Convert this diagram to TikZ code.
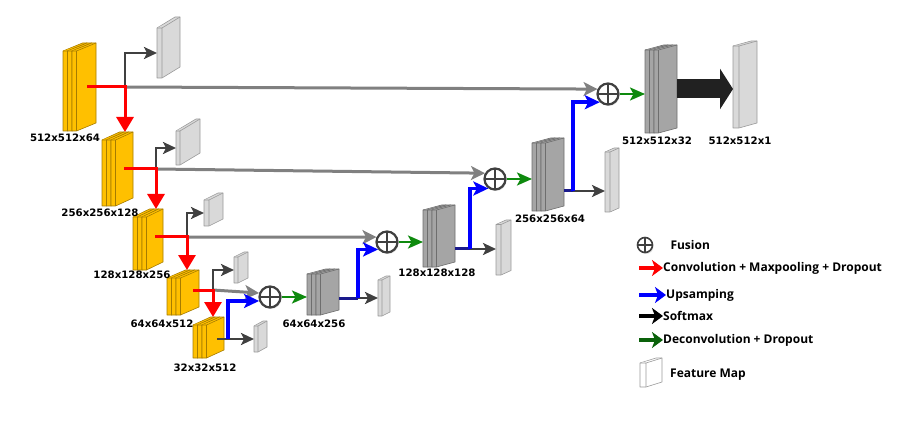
\documentclass[tikz,border=0pt]{standalone}
\usepackage{fontspec}
\setmainfont{DejaVu Sans}
\newfontfamily\legfont{Open Sans}
\usepackage{tikz}
\usetikzlibrary{positioning}
\usetikzlibrary{calc}
\usetikzlibrary{arrows.meta}
\usetikzlibrary{shadows}

\definecolor{yel}{HTML}{FFC000}
\definecolor{yeldraw}{HTML}{A67C00}
\definecolor{decfill}{HTML}{A5A5A5}
\definecolor{decdraw}{HTML}{6E6E6E}
\definecolor{fmfill}{HTML}{D9D9D9}
\definecolor{fmdraw}{HTML}{9A9A9A}
\definecolor{darkarr}{HTML}{404040}
\definecolor{longgray}{HTML}{808080}
\definecolor{navy}{HTML}{1A1A8C}
\definecolor{grn}{HTML}{0E8A0E}

% one thin slab: x, top, bottom, width, depth, rise, style
\newcommand{\oneslab}[7]{%
  \filldraw[#7] (#1,#2+#6) -- ++(#5,-#6) -- ++(#4,0) -- (#1+#4+#5,#3-#6) -- (#1+#4,#3) -- (#1,#3) -- cycle;
  \draw[#7] (#1,#2+#6) -- ++(#4,0) -- ++(#5,-#6) (#1+#4,#2+#6) -- (#1+#4,#3);
}
% stack of three slabs: name, left, right, top, bottom, rise, style
\newcommand{\stackmap}[7]{%
  \pgfmathsetmacro\sd{#3-#2-13.5}
  \foreach \i in {0,1,2}{
    \pgfmathsetmacro\sx{#2+4.5*\i}
    \oneslab{\sx}{#4}{#5}{4.5}{\sd}{#6}{#7}
  }
  \pgfmathsetmacro\bw{#3-#2}
  \pgfmathsetmacro\bh{#5-#4}
  \node[hold, minimum width=\bw pt, minimum height=\bh pt] (#1) at ({(#2+#3)/2},{(#4+#5)/2}) {};
}
% single feature map: name, left, right, top, bottom, width, rise, style
\newcommand{\featmap}[8]{%
  \pgfmathsetmacro\sd{#3-#2-#6}
  \oneslab{#2}{#4}{#5}{#6}{\sd}{#7}{#8}
  \pgfmathsetmacro\bw{#3-#2}
  \pgfmathsetmacro\bh{#5-#4-#7}
  \node[hold, minimum width=\bw pt, minimum height=\bh pt] (#1) at ({(#2+#3)/2},{(#4+#7+#5)/2}) {};
}

\begin{document}
\begin{tikzpicture}[x=1pt, y=-1pt, node distance=10pt]
\tikzset{
  hold/.style={inner sep=0pt, outer sep=0pt, minimum size=0pt},
  enc/.style={fill=yel, draw=yeldraw, line width=0.6pt, line join=round},
  dec/.style={fill=decfill, draw=decdraw, line width=0.6pt, line join=round},
  fmap/.style={fill=fmfill, draw=fmdraw, line width=0.6pt, line join=round},
  keymap/.style={fill=white, draw=fmdraw, line width=0.6pt, line join=round},
  conv/.style={draw=red, line width=3pt, -{Triangle[length=15pt,width=17pt]}},
  bypass/.style={draw=longgray, line width=3pt, -{Stealth[length=14pt,width=14pt,inset=3.5pt]}},
  branch/.style={draw=darkarr, line width=2.5pt, -{Stealth[length=13pt,width=12pt,inset=3pt]}},
  upsamp/.style={draw=blue, line width=3.5pt, -{Stealth[length=15pt,width=14pt,inset=3.5pt]}},
  link/.style={draw=navy, line width=3pt},
  deconv/.style={draw=grn, line width=2.5pt, -{Stealth[length=15pt,width=13pt,inset=3.5pt]}},
  softmax/.style={draw=black!87, line width=19pt, -{Triangle[length=13pt,width=40pt]}},
  fusion/.style={circle, draw=darkarr, line width=2.2pt, fill=white, minimum size=21pt, inner sep=0pt,
    drop shadow={opacity=.25, shadow xshift=1pt, shadow yshift=-1.5pt},
    path picture={\draw[darkarr, line width=2pt] (path picture bounding box.north) -- (path picture bounding box.south)
      (path picture bounding box.west) -- (path picture bounding box.east);}},
  dim/.style={font=\bfseries\fontsize{10.2}{12}\selectfont, inner sep=0pt},
  legtext/.style={font=\legfont\bfseries\fontsize{12}{14}\selectfont, inner sep=0pt, anchor=west},
  keyarrow/.style={line width=4pt, -{Stealth[length=11pt,width=16pt,inset=3pt]}},
}
\useasboundingbox (0,0) rectangle (913,422);

% encoder
\stackmap{e1}{63}{96}{43}{131}{8}{enc}
\stackmap{e2}{102}{133}{132}{206}{8}{enc}
\stackmap{e3}{133}{163}{209}{270}{8}{enc}
\stackmap{e4}{167}{199}{270}{315}{8}{enc}
\stackmap{e5}{193}{224}{317}{358}{8}{enc}
% decoder
\stackmap{d4}{307}{339}{269}{315}{5}{dec}
\stackmap{d3}{423}{455}{205}{267}{5}{dec}
\stackmap{d2}{532}{564}{138}{211}{5}{dec}
\stackmap{d1}{645}{677}{45}{133}{5}{dec}
% feature maps
\featmap{f1}{157}{180}{17}{78}{5}{11}{fmap}
\featmap{f2}{176}{200}{119}{165}{4}{12}{fmap}
\featmap{f3}{204}{223}{193}{226}{5}{7}{fmap}
\featmap{f4}{234}{248}{252}{283}{4}{5}{fmap}
\featmap{f5}{254}{267}{321}{352}{4}{5}{fmap}
\featmap{g4}{378}{390}{276}{316}{4}{4}{fmap}
\featmap{g3}{496}{511}{220}{275}{5}{4.5}{fmap}
\featmap{g2}{605}{619}{148}{212}{5}{4}{fmap}
\featmap{out}{733}{757}{41}{128}{6}{5}{fmap}

% fusion
\node[fusion] (c1) at (608,94) {};
\node[fusion] (c2) at (495,179) {};
\node[fusion] (c3) at (387,242) {};
\node[fusion] (c4) at (270,297) {};

\coordinate (b1) at (125,87);
\coordinate (b2) at (156,169);
\coordinate (b3) at (187,237);
\coordinate (b4) at (213,290);
\coordinate (s5) at (228,339);
\coordinate (s4) at (358,298);
\coordinate (s3) at (470,249);
\coordinate (s2) at (573,191);

% skip paths
\draw[bypass] (b1) -- (c1.155);
\draw[bypass] (b2) -- (c2.150);
\draw[bypass] (b3) -- (c3.155);
\draw[bypass] (b4) -- (c4.160);
\draw[branch] (b1) |- (f1.west);
\draw[branch] (b2) |- (f2.west);
\draw[branch] (b3) |- (f3.west);
\draw[branch] (b4) |- (f4.west);

% down path
\draw[conv] (b1 -| e1.east) ++(-9,0) -- (b1) -- (b1 |- e2.north);
\draw[conv] (b2 -| e2.east) ++(-9,0) -- (b2) -- (b2 |- e3.north);
\draw[conv] (b3 -| e3.east) ++(-8,0) -- (b3) -- (b3 |- e4.north);
\draw[conv] (b4 -| e4.east) ++(-6,0) -- (b4) -- (b4 |- e5.north);

% up path
\draw[branch] (s5 -| e5.east) ++(-7,0) -- (s5 -| f5.west);
\draw[upsamp] (s5) |- (c4.200);
\draw[branch] (s4) -- (s4 -| g4.west);
\draw[link] (s4 -| d4.east) -- (s4);
\draw[upsamp] (s4) |- (c3.220);
\draw[branch] (s3) -- (s3 -| g3.west);
\draw[link] (s3 -| d3.east) -- (s3);
\draw[upsamp] (s3) |- (c2.235);
\draw[branch] (s2) -- (s2 -| g2.west);
\draw[link] (s2 -| d2.east) -- (s2);
\draw[upsamp] (s2) |- (c1.225);

\draw[deconv] (c4.east) -- (c4.east -| d4.west);
\draw[deconv] (c3.east) -- (c3.east -| d3.west);
\draw[deconv] (c2.east) -- (c2.east -| d2.west);
\draw[deconv] (c1.east) -- (c1.east -| d1.west);

\draw[softmax] (d1.east) -- (d1.east -| out.west);

% sizes
\node[dim] (n1) at (65,138) {512x512x64};
\node[dim] (n2) at (100,213) {256x256x128};
\node[dim] (n3) at (132,275) {128x128x256};
\node[dim] (n4) at (162,324) {64x64x512};
\node[dim] (n5) at (205,368) {32x32x512};
\node[dim] (m4) at (314,324) {64x64x256};
\node[dim] (m3) at (437,273) {128x128x128};
\node[dim] (m2) at (550,219) {256x256x64};
\node[dim] (m1) at (657,141) {512x512x32};
\node[dim] (m0) at (740,141) {512x512x1};

% legend
\node[fusion, minimum size=15pt, line width=1.6pt] (kf) at (645,245) {};
\node[legtext, right=17pt of kf] (t1) {Fusion};
\coordinate (k2) at (639,268);
\node[legtext, right=24pt of k2] (t2) {Convolution + Maxpooling + Dropout};
\draw[keyarrow, draw=red] (k2) -- (t2.west);
\coordinate (k3) at (639,295);
\node[legtext, right=27pt of k3] (t3) {Upsamping};
\draw[keyarrow, draw=blue] (k3) -- (t3.west);
\coordinate (k4) at (639,316);
\node[legtext, right=24pt of k4] (t4) {Softmax};
\draw[keyarrow, draw=black] (k4) -- (t4.west);
\coordinate (k5) at (639,340);
\node[legtext, right=24pt of k5] (t5) {Deconvolution + Dropout};
\draw[keyarrow, draw=grn!70!black] (k5) -- (t5.west);
\featmap{key}{640}{662}{358}{387}{6}{5}{keymap}
\node[legtext, right=8pt of key] (t6) {Feature Map};
\end{tikzpicture}
\end{document}
